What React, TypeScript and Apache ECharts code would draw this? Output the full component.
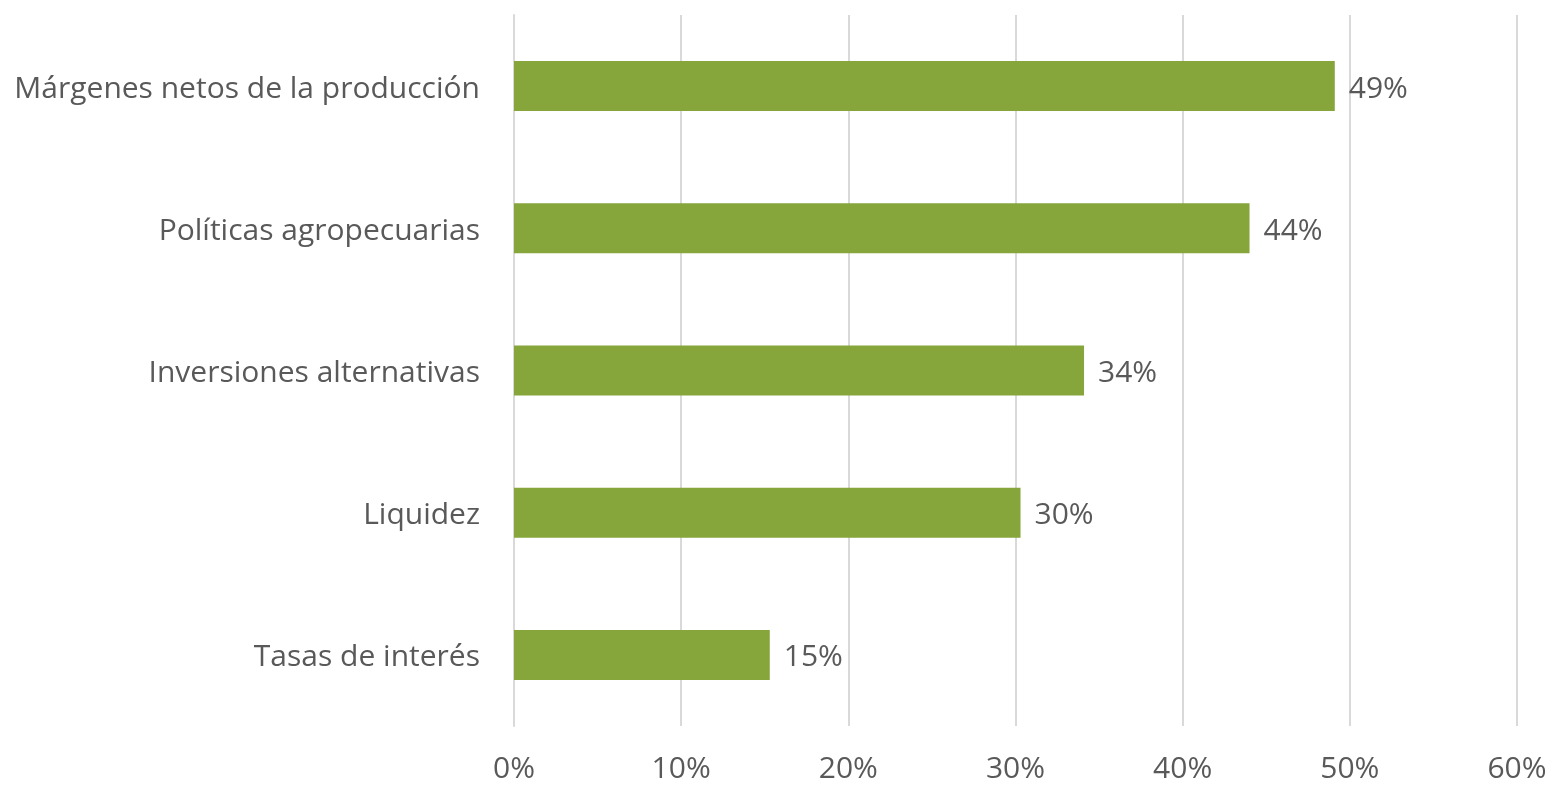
import React, { useEffect, useRef } from "react";
import * as echarts from "echarts";

const categories = [
  "Tasas de interés",
  "Liquidez",
  "Inversiones alternativas",
  "Políticas agropecuarias",
  "Márgenes netos de la producción",
];
const values = [0.153, 0.303, 0.341, 0.44, 0.491];

const FONT = "'Open Sans', sans-serif";

export default function App() {
  const ref = useRef<HTMLDivElement>(null);
  useEffect(() => {
    const chart = echarts.init(ref.current!, null, { renderer: "svg" });
    chart.setOption({
      animation: false,
      grid: { left: 514, right: 37, top: 15, bottom: 62, containLabel: false },
      xAxis: {
        type: "value",
        min: 0,
        max: 0.6,
        interval: 0.1,
        axisLine: { show: false },
        axisTick: { show: false },
        splitLine: { lineStyle: { color: "#d9d9d9", width: 2 } },
        axisLabel: {
          formatter: (v: number) => Math.round(v * 100) + "%",
          color: "#595959",
          fontSize: 30,
          lineHeight: 30,
          fontFamily: FONT,
          margin: 25,
        },
      },
      yAxis: {
        type: "category",
        data: categories,
        axisLine: { show: true, lineStyle: { color: "#d9d9d9", width: 2 } },
        axisTick: { show: false },
        axisLabel: {
          color: "#595959",
          fontSize: 30,
          fontFamily: FONT,
          margin: 34,
        },
      },
      series: [
        {
          type: "bar",
          data: values,
          barWidth: 50,
          itemStyle: { color: "#86A53A" },
          label: {
            show: true,
            position: "right",
            distance: 14,
            formatter: (p: any) => Math.round(p.value * 100) + "%",
            color: "#595959",
            fontSize: 30,
            fontFamily: FONT,
          },
        },
      ],
    });
    return () => chart.dispose();
  }, []);
  return <div ref={ref} style={{ width: 1554, height: 788, position: "fixed", left: 0, top: 0 }} />;
}
